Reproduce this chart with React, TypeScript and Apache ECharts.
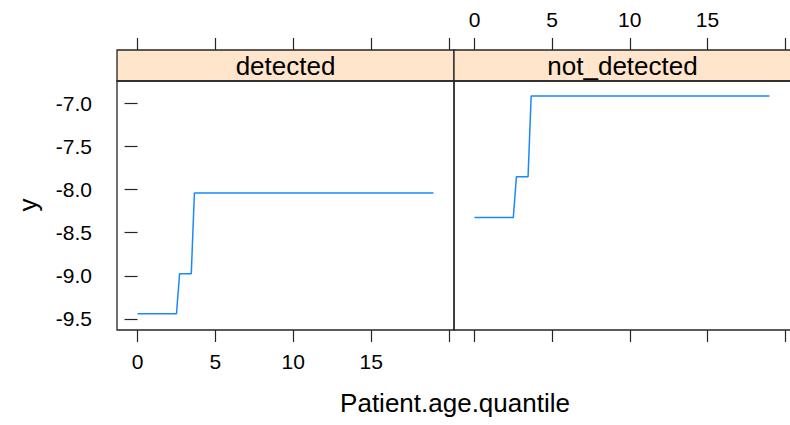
import React, { useEffect, useRef } from "react";
import * as echarts from "echarts";

const panelNames = ["detected", "not_detected"];
const xSteps = [0, 2.5, 2.7, 3.45, 3.65, 19];
const detectedY = [-9.44, -9.44, -8.975, -8.975, -8.04, -8.04];
const notDetectedY = [-8.325, -8.325, -7.85, -7.85, -6.915, -6.915];
const xTickValues = [0, 5, 10, 15, 20];
const xLabelValues = [0, 5, 10, 15];
const yTickValues = [-9.5, -9.0, -8.5, -8.0, -7.5, -7.0];

const FONT = "Liberation Sans, Arial, sans-serif";
const BORDER = "#262626";
const PANEL_LEFT = [117, 454];
const PANEL_W = 337;
const PANEL_TOP = 81;
const PANEL_H = 249;
const STRIP_TOP = 50;
const STRIP_H = 31;

export default function App() {
  const ref = useRef<HTMLDivElement>(null);
  useEffect(() => {
    if (!ref.current) return;
    const chart = echarts.init(ref.current, undefined, { renderer: "svg" });
    const xmin = -1.32;
    const xmax = 20.32;
    const ymin = -9.628;
    const ymax = -6.741;
    const mkX = (grid: number, position: string, showLabels: boolean, offset: number) => ({
      type: "value",
      gridIndex: grid,
      position,
      offset,
      min: xmin,
      max: xmax,
      axisLine: { show: false },
      splitLine: { show: false },
      axisTick: {
        show: true,
        length: 12,
        customValues: xTickValues,
        lineStyle: { color: BORDER, width: 1.2 },
      },
      axisLabel: {
        show: showLabels,
        customValues: xLabelValues,
        margin: position === "bottom" ? 21 : 20,
        color: "#000",
        fontSize: 21,
        fontFamily: FONT,
      },
    });
    const series = [detectedY, notDetectedY].map((ys, i) => ({
      type: "line",
      xAxisIndex: i,
      yAxisIndex: i,
      data: xSteps.map((x, k) => [x, ys[k]]),
      showSymbol: false,
      symbol: "none",
      lineStyle: { color: "#1a88ff", width: 1.5 },
      silent: true,
    }));
    const graphics: any[] = [];
    PANEL_LEFT.forEach((left, i) => {
      graphics.push({
        type: "rect",
        shape: { x: left, y: STRIP_TOP, width: PANEL_W, height: STRIP_H },
        style: { fill: "#FFE5CC", stroke: BORDER, lineWidth: 1.3 },
        z: 10,
      });
      graphics.push({
        type: "text",
        x: left + PANEL_W / 2,
        y: STRIP_TOP + STRIP_H / 2,
        style: {
          text: panelNames[i],
          fill: "#000",
          font: `26px ${FONT}`,
          align: "center",
          verticalAlign: "middle",
        },
        z: 11,
      });
      graphics.push({
        type: "rect",
        shape: { x: left, y: PANEL_TOP, width: PANEL_W, height: PANEL_H },
        style: { fill: "none", stroke: BORDER, lineWidth: 1.3 },
        z: 10,
      });
    });
    graphics.push({
      type: "text",
      x: 455,
      y: 403,
      style: {
        text: "Patient.age.quantile",
        fill: "#000",
        font: `26px ${FONT}`,
        align: "center",
        verticalAlign: "middle",
      },
    });
    graphics.push({
      type: "text",
      x: 28,
      y: 205,
      rotation: Math.PI / 2,
      style: {
        text: "y",
        fill: "#000",
        font: `26px ${FONT}`,
        align: "center",
        verticalAlign: "middle",
      },
    });
    chart.setOption({
      animation: false,
      grid: PANEL_LEFT.map((left) => ({
        left,
        top: PANEL_TOP,
        width: PANEL_W,
        height: PANEL_H,
        show: false,
      })),
      xAxis: [
        mkX(0, "bottom", true, 0),
        mkX(1, "bottom", false, 0),
        mkX(0, "top", false, 31),
        mkX(1, "top", true, 31),
      ],
      yAxis: [0, 1].map((g) => ({
        type: "value",
        gridIndex: g,
        min: ymin,
        max: ymax,
        axisLine: { show: false },
        splitLine: { show: false },
        axisTick: {
          show: g === 0,
          length: 13,
          customValues: yTickValues,
          lineStyle: { color: BORDER, width: 1.2 },
        },
        axisLabel: {
          show: g === 0,
          customValues: yTickValues,
          margin: 25,
          color: "#000",
          fontSize: 21,
          fontFamily: FONT,
          formatter: (v: number) => v.toFixed(1),
        },
      })),
      series,
      graphic: graphics,
    });
    return () => chart.dispose();
  }, []);
  return (
    <div
      ref={ref}
      style={{ position: "absolute", left: 0, top: 0, width: 790, height: 425 }}
    />
  );
}
